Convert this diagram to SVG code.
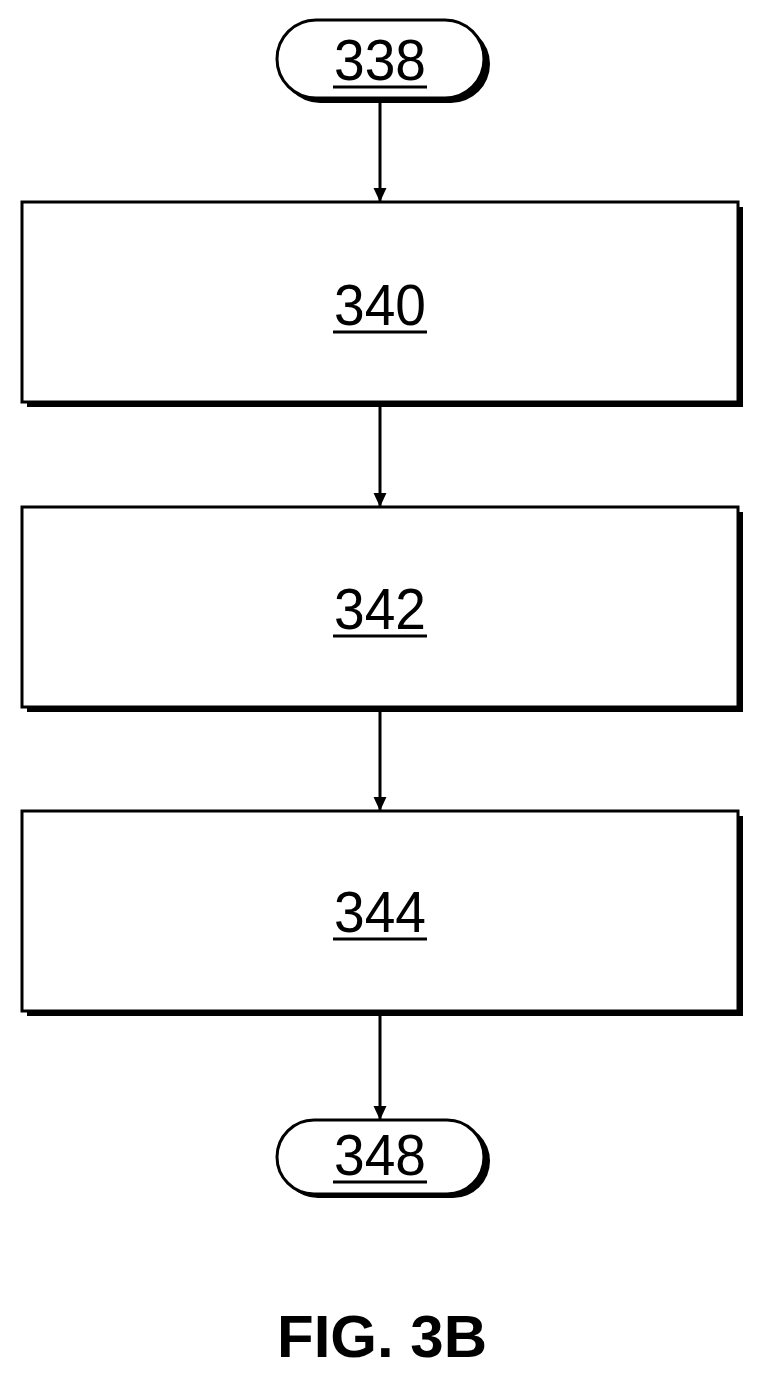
<svg xmlns="http://www.w3.org/2000/svg" width="766" height="1379" viewBox="0 0 766 1379">
<style>
.box{fill:#fff;stroke:#000;stroke-width:3}
.sh{fill:#000}
.t{font-family:"Liberation Sans",Arial,sans-serif;font-size:58px;text-anchor:middle;fill:#000}
.u{stroke:#000;stroke-width:3}
.c{stroke:#000;stroke-width:3;fill:none}
.f{font-family:"Liberation Sans",Arial,sans-serif;font-size:60px;font-weight:bold;text-anchor:middle;fill:#000}
</style>
<defs><marker id="a" markerWidth="14" markerHeight="26" refX="26" refY="13" viewBox="0 0 26 26" orient="auto" markerUnits="userSpaceOnUse"><path d="M0,1 L26,13 L0,25 Z" fill="#000"/></marker></defs>
<g id="n338"><rect x="281" y="25" width="209" height="78" rx="39" class="sh"/><rect x="277" y="20" width="207" height="78" rx="39" class="box"/><text x="380" y="80" class="t" textLength="92" lengthAdjust="spacingAndGlyphs">338</text><line x1="333" y1="87" x2="427" y2="87" class="u"/></g>
<g id="n340"><rect x="27" y="207" width="716" height="200" class="sh"/><rect x="22" y="202" width="716" height="200" class="box"/><text x="380" y="325" class="t" textLength="92" lengthAdjust="spacingAndGlyphs">340</text><line x1="333" y1="332" x2="427" y2="332" class="u"/></g>
<g id="n342"><rect x="27" y="512" width="716" height="200" class="sh"/><rect x="22" y="507" width="716" height="200" class="box"/><text x="380" y="629" class="t" textLength="92" lengthAdjust="spacingAndGlyphs">342</text><line x1="333" y1="636" x2="427" y2="636" class="u"/></g>
<g id="n344"><rect x="27" y="816" width="716" height="200" class="sh"/><rect x="22" y="811" width="716" height="200" class="box"/><text x="380" y="932" class="t" textLength="92" lengthAdjust="spacingAndGlyphs">344</text><line x1="333" y1="939" x2="427" y2="939" class="u"/></g>
<g id="n348"><rect x="281" y="1124" width="209" height="74" rx="37" class="sh"/><rect x="277" y="1120" width="207" height="74" rx="37" class="box"/><text x="380" y="1175" class="t" textLength="92" lengthAdjust="spacingAndGlyphs">348</text><line x1="333" y1="1182" x2="427" y2="1182" class="u"/></g>
<g id="connectors">
<line x1="380" y1="99" x2="380" y2="202" class="c" marker-end="url(#a)"/>
<line x1="380" y1="403" x2="380" y2="507" class="c" marker-end="url(#a)"/>
<line x1="380" y1="708" x2="380" y2="811" class="c" marker-end="url(#a)"/>
<line x1="380" y1="1012" x2="380" y2="1120" class="c" marker-end="url(#a)"/>
</g>
<text x="382" y="1357" class="f">FIG. 3B</text>
</svg>
